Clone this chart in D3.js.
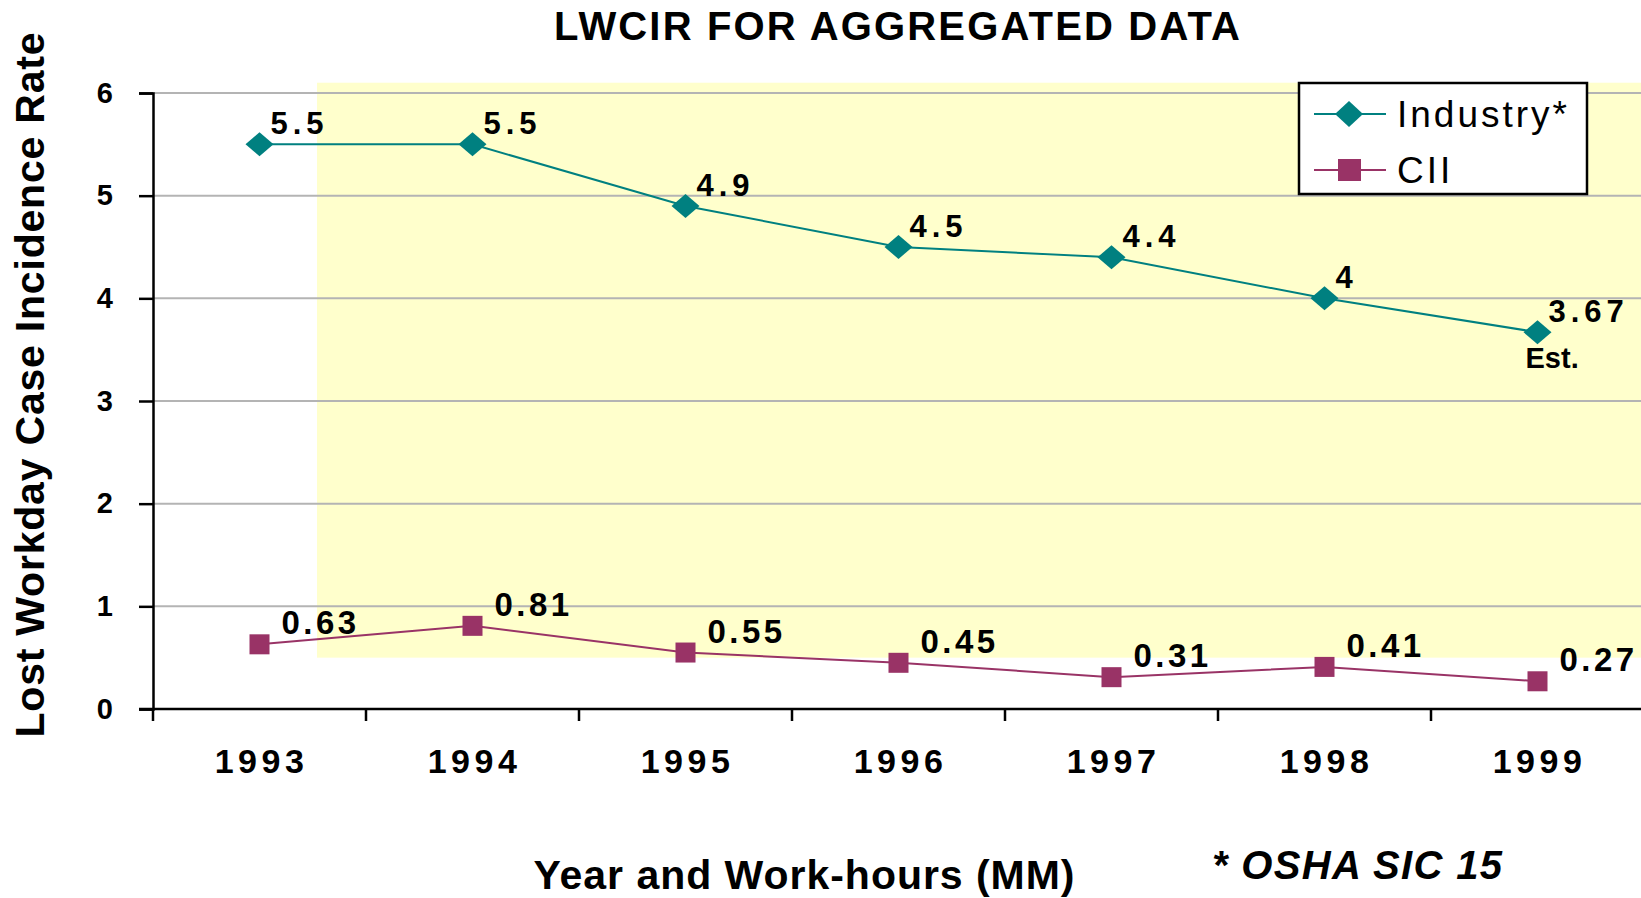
<!DOCTYPE html>
<html lang="en">
<head>
<meta charset="UTF-8" />
<title>LWCIR for aggregated data</title>
<script src="https://cdn.jsdelivr.net/npm/d3@7"></script>
<style>
    html, body { margin: 0; background: #fff; }
    svg text { font-family: "Liberation Sans", Arial, sans-serif; }
</style>
</head>
<body>
<div id="chart"></div>
<script>
    // data
    const years = ["1993", "1994", "1995", "1996", "1997", "1998", "1999"];
    const industry = [5.5, 5.5, 4.9, 4.5, 4.4, 4, 3.67];
    const cii = [0.63, 0.81, 0.55, 0.45, 0.31, 0.41, 0.27];
    const industryLabels = ["5.5", "5.5", "4.9", "4.5", "4.4", "4", "3.67"];
    const ciiLabels = ["0.63", "0.81", "0.55", "0.45", "0.31", "0.41", "0.27"];
    const yTicks = [0, 1, 2, 3, 4, 5, 6];
    const seriesNames = ["Industry*", "CII"];

    const teal = "#008080";
    const plum = "#993366";

    const width = 1641, height = 898;
    const margin = { left: 153, right: -3, top: 93, bottom: 189 };

    const svg = d3.select("#chart").append("svg")
        .attr("width", width)
        .attr("height", height);

    const x = d3.scaleBand()
        .domain(years)
        .range([margin.left, width - margin.right]);

    const y = d3.scaleLinear()
        .domain([0, 6])
        .range([height - margin.bottom, margin.top]);

    const cx = d => x(d) + x.bandwidth() / 2;

    // yellow highlight panel behind the plot (starts part way into the 1993 band)
    const panelLeft = x("1993") + x.bandwidth() * 0.77;
    svg.append("rect")
        .attr("x", panelLeft)
        .attr("y", y(6.1))
        .attr("width", width - panelLeft)
        .attr("height", y(0.5) - y(6.1))
        .attr("fill", "#ffffcc");

    // gridlines
    svg.append("g")
        .selectAll("line")
        .data(yTicks.filter(d => d > 0))
        .join("line")
        .attr("x1", margin.left)
        .attr("x2", width)
        .attr("y1", d => y(d))
        .attr("y2", d => y(d))
        .attr("stroke", "#b4b4b4")
        .attr("stroke-width", 2);

    // y axis
    const yAxis = svg.append("g")
        .attr("transform", `translate(${margin.left},0)`)
        .call(d3.axisLeft(y).tickValues(yTicks).tickSize(14).tickPadding(26).tickFormat(d3.format("d")));
    yAxis.select(".domain").attr("stroke", "#000").attr("stroke-width", 2.5);
    yAxis.selectAll(".tick line").attr("stroke", "#000").attr("stroke-width", 2.5);
    yAxis.selectAll(".tick text")
        .attr("font-size", 29)
        .attr("font-weight", "bold")
        .attr("fill", "#000")
        .attr("font-family", "Liberation Sans, Arial, sans-serif");

    // x axis: ticks on band boundaries
    const xBase = y(0);
    svg.append("line")
        .attr("x1", margin.left - 14).attr("x2", width)
        .attr("y1", xBase).attr("y2", xBase)
        .attr("stroke", "#000").attr("stroke-width", 2.5);
    svg.append("g")
        .selectAll("line")
        .data(years)
        .join("line")
        .attr("x1", d => x(d)).attr("x2", d => x(d))
        .attr("y1", xBase).attr("y2", xBase + 12)
        .attr("stroke", "#000").attr("stroke-width", 2.5);
    svg.append("g")
        .selectAll("text")
        .data(years)
        .join("text")
        .attr("x", d => cx(d) + 2)
        .attr("y", xBase + 64)
        .attr("text-anchor", "middle")
        .attr("font-size", 34)
        .attr("font-weight", "bold")
        .attr("letter-spacing", 4.5)
        .text(d => d);

    // lines and markers
    const line = d3.line().x((d, i) => cx(years[i])).y(d => y(d));

    svg.append("path").datum(industry)
        .attr("d", line).attr("fill", "none")
        .attr("stroke", teal).attr("stroke-width", 2);
    svg.append("path").datum(cii)
        .attr("d", line).attr("fill", "none")
        .attr("stroke", plum).attr("stroke-width", 2);

    const diamond = (px, py, w, h) => `M${px - w / 2},${py}L${px},${py - h / 2}L${px + w / 2},${py}L${px},${py + h / 2}Z`;

    svg.append("g").selectAll("path")
        .data(industry)
        .join("path")
        .attr("d", (d, i) => diamond(cx(years[i]), y(d), 28, 24))
        .attr("fill", teal);

    svg.append("g").selectAll("rect")
        .data(cii)
        .join("rect")
        .attr("x", (d, i) => cx(years[i]) - 10)
        .attr("y", d => y(d) - 10)
        .attr("width", 20).attr("height", 20)
        .attr("fill", plum);

    // data labels
    svg.append("g").selectAll("text")
        .data(industry)
        .join("text")
        .attr("x", (d, i) => cx(years[i]) + 11)
        .attr("y", d => y(d) - 10)
        .attr("font-size", 31)
        .attr("font-weight", "bold")
        .attr("letter-spacing", 5)
        .text((d, i) => industryLabels[i]);

    svg.append("text")
        .attr("x", cx("1999") - 12)
        .attr("y", y(industry[6]) + 36)
        .attr("font-size", 29)
        .attr("font-weight", "bold")
        .text("Est.");

    svg.append("g").selectAll("text")
        .data(cii)
        .join("text")
        .attr("x", (d, i) => cx(years[i]) + 22)
        .attr("y", d => y(d) - 10)
        .attr("font-size", 33)
        .attr("font-weight", "bold")
        .attr("letter-spacing", 3.5)
        .text((d, i) => ciiLabels[i]);

    // legend
    const legend = svg.append("g").attr("transform", "translate(1299,83)");
    legend.append("rect")
        .attr("width", 288).attr("height", 111)
        .attr("fill", "#fff").attr("stroke", "#000").attr("stroke-width", 2.5);
    const rows = legend.selectAll("g.row")
        .data(seriesNames)
        .join("g")
        .attr("class", "row")
        .attr("transform", (d, i) => `translate(0,${31 + i * 56})`);
    rows.append("line")
        .attr("x1", 15).attr("x2", 87)
        .attr("stroke", (d, i) => i === 0 ? teal : plum).attr("stroke-width", 2);
    rows.filter((d, i) => i === 0).append("path")
        .attr("d", diamond(50, 0, 28, 26)).attr("fill", teal);
    rows.filter((d, i) => i === 1).append("rect")
        .attr("x", 39).attr("y", -11).attr("width", 23).attr("height", 22).attr("fill", plum);
    rows.append("text")
        .attr("x", 98).attr("y", 13)
        .attr("font-size", 37)
        .attr("letter-spacing", 3)
        .text(d => d);

    // titles
    svg.append("text")
        .attr("x", 897).attr("y", 40)
        .attr("text-anchor", "middle")
        .attr("font-size", 40)
        .attr("font-weight", "bold")
        .attr("textLength", 686)
        .attr("lengthAdjust", "spacing")
        .text("LWCIR FOR AGGREGATED DATA");

    svg.append("text")
        .attr("transform", "translate(44,385) rotate(-90)")
        .attr("text-anchor", "middle")
        .attr("font-size", 41)
        .attr("font-weight", "bold")
        .attr("textLength", 705)
        .attr("lengthAdjust", "spacing")
        .text("Lost Workday Case Incidence Rate");

    svg.append("text")
        .attr("x", 804).attr("y", 889)
        .attr("text-anchor", "middle")
        .attr("font-size", 41)
        .attr("font-weight", "bold")
        .attr("textLength", 541)
        .attr("lengthAdjust", "spacing")
        .text("Year and Work-hours (MM)");

    svg.append("text")
        .attr("x", 1212).attr("y", 879)
        .attr("font-size", 40)
        .attr("font-weight", "bold")
        .attr("font-style", "italic")
        .attr("textLength", 290)
        .attr("lengthAdjust", "spacing")
        .text("* OSHA SIC 15");
</script>
</body>
</html>
